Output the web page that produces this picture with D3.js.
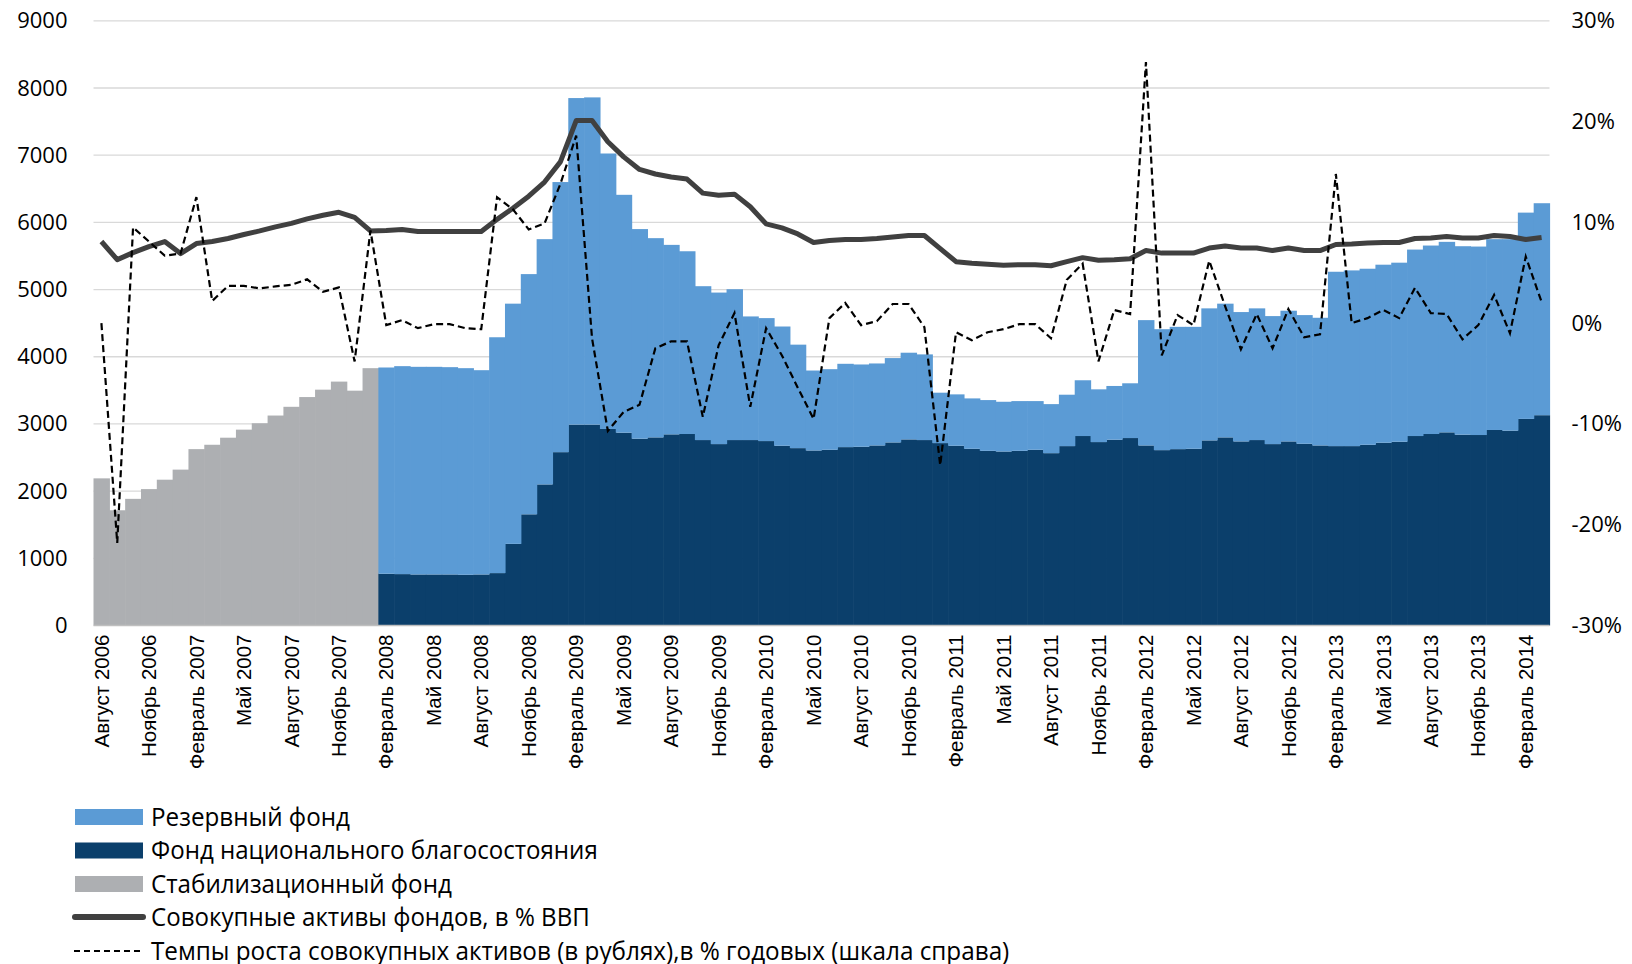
<!DOCTYPE html>
<html>
<head>
<meta charset="utf-8">
<script src="https://cdn.jsdelivr.net/npm/d3@7"></script>
<style>
  html, body { margin: 0; padding: 0; background: #ffffff; }
  svg { display: block; }
</style>
</head>
<body>
<svg id="chart" width="1632" height="964"></svg>
<script>
// Monthly data, August 2006 – March 2014
const monthNames = ["Январь","Февраль","Март","Апрель","Май","Июнь","Июль","Август","Сентябрь","Октябрь","Ноябрь","Декабрь"];
const startYear = 2006, startMonth = 7, monthCount = 92;

// Stabilisation fund, bn RUB (Aug 2006 – Jan 2008)
const stabFund = [2190, 1715, 1885, 2030, 2170, 2320, 2625, 2690, 2795, 2915, 3010, 3125,
                  3255, 3400, 3510, 3630, 3495, 3830];

// National Wealth Fund, bn RUB (Feb 2008 – Mar 2014)
const nwfFund = [770, 765, 760, 760, 760, 755, 760, 780, 1215, 1655, 2100, 2580,
                 2990, 2990, 2925, 2870, 2780, 2800, 2845, 2850, 2760, 2700, 2760, 2760,
                 2745, 2675, 2640, 2605, 2615, 2655, 2660, 2680, 2725, 2770, 2760, 2715,
                 2675, 2630, 2600, 2590, 2600, 2615, 2565, 2670, 2820, 2730, 2765, 2790,
                 2680, 2610, 2625, 2630, 2755, 2800, 2740, 2760, 2700, 2740, 2705, 2680,
                 2670, 2670, 2690, 2720, 2735, 2820, 2850, 2875, 2840, 2835, 2910, 2900,
                 3075, 3130];

// Reserve Fund, bn RUB (Feb 2008 – Mar 2014)
const reserveFund = [3070, 3095, 3090, 3090, 3085, 3075, 3040, 3510, 3575, 3575, 3650, 4020,
                     4860, 4870, 4100, 3540, 3120, 2965, 2820, 2720, 2290, 2255, 2245, 1840,
                     1830, 1775, 1540, 1190, 1200, 1240, 1225, 1220, 1255, 1290, 1275, 750,
                     765, 750, 755, 740, 740, 725, 730, 765, 830, 785, 800, 815,
                     1865, 1800, 1820, 1815, 1965, 1990, 1925, 1960, 1905, 1945, 1915, 1900,
                     2595, 2615, 2620, 2650, 2665, 2775, 2805, 2835, 2805, 2805, 2840, 2850,
                     3070, 3155];

// Total assets of the funds, % of GDP (right scale)
const assetsGdp = [8.1, 6.3, 7.0, 7.6, 8.1, 6.9, 7.9, 8.1, 8.4, 8.8, 9.15, 9.55,
                   9.9, 10.35, 10.7, 11.0, 10.5, 9.15, 9.2, 9.3, 9.1, 9.1, 9.1, 9.1,
                   9.1, 10.3, 11.4, 12.6, 14.0, 16.0, 20.1, 20.1, 18.0, 16.5, 15.25, 14.8,
                   14.5, 14.3, 12.9, 12.7, 12.8, 11.55, 9.85, 9.45, 8.85, 8.0, 8.2, 8.3,
                   8.3, 8.4, 8.55, 8.7, 8.7, 7.4, 6.1, 5.95, 5.85, 5.75, 5.8, 5.8,
                   5.7, 6.1, 6.5, 6.25, 6.3, 6.4, 7.2, 6.95, 6.95, 6.95, 7.45, 7.65,
                   7.45, 7.45, 7.2, 7.45, 7.2, 7.2, 7.8, 7.85, 7.95, 8.0, 8.0, 8.4,
                   8.45, 8.6, 8.45, 8.45, 8.7, 8.6, 8.3, 8.5];

// Growth of total assets in rubles, % annualised (right scale)
const growthRate = [0.0, -21.8, 9.5, 8.1, 6.7, 6.9, 12.5, 2.2, 3.7, 3.7, 3.45, 3.65,
                    3.8, 4.35, 3.1, 3.55, -3.8, 9.2, -0.2, 0.3, -0.5, -0.1, -0.1, -0.5,
                    -0.6, 12.5, 11.3, 9.3, 9.9, 13.8, 18.6, -1.5, -10.7, -8.8, -8.1, -2.5,
                    -1.8, -1.8, -9.3, -2.2, 1.0, -8.3, -0.5, -3.2, -6.4, -9.5, 0.5, 2.0,
                    -0.2, 0.2, 1.9, 1.9, -0.4, -14.1, -0.9, -1.7, -0.9, -0.6, -0.1, -0.1,
                    -1.5, 4.3, 5.9, -3.8, 1.3, 0.9, 25.9, -3.2, 0.8, -0.2, 6.2, 1.7,
                    -2.6, 0.9, -2.5, 1.4, -1.4, -1.1, 14.8, 0.0, 0.5, 1.3, 0.5, 3.5,
                    1.0, 0.9, -1.6, -0.2, 2.8, -1.0, 6.6, 2.1];

const leftTicks = [0, 1000, 2000, 3000, 4000, 5000, 6000, 7000, 8000, 9000];
const rightTicks = [-30, -20, -10, 0, 10, 20, 30];

const legendLabels = ["Резервный фонд", "Фонд национального благосостояния", "Стабилизационный фонд",
                      "Совокупные активы фондов, в % ВВП",
                      "Темпы роста совокупных активов (в рублях),в % годовых (шкала справа)"];

const colors = { reserve: "#5b9bd5", nwf: "#0b3f6b", stab: "#adafb2", line: "#404040", dash: "#000000" };

// Categories: one per month
const categories = [];
for (let k = 0; k < monthCount; k++) {
  const m = (startMonth + k) % 12, y = startYear + Math.floor((startMonth + k) / 12);
  categories.push(monthNames[m] + " " + y);
}
const nwfStart = stabFund.length;

const svg = d3.select("#chart");
const plot = { left: 93.5, right: 1549.5, top: 20.8, bottom: 625.5 };

const x = d3.scaleBand().domain(categories).range([plot.left, plot.right]).padding(0);
const yL = d3.scaleLinear().domain([0, 9000]).range([plot.bottom, plot.top]);
const yR = d3.scaleLinear().domain([-30, 30]).range([plot.bottom, plot.top]);
const bw = x.bandwidth();

// Gridlines
svg.append("g").selectAll("line").data(leftTicks.filter(t => t > 0)).join("line")
  .attr("x1", plot.left).attr("x2", plot.right)
  .attr("y1", d => yL(d)).attr("y2", d => yL(d))
  .attr("stroke", "#d9d9d9").attr("stroke-width", 1.3);

// Columns
const bars = svg.append("g");
bars.selectAll("rect.stab").data(stabFund).join("rect")
  .attr("x", (d, i) => x(categories[i])).attr("width", bw + 0.6)
  .attr("y", d => yL(d)).attr("height", d => yL(0) - yL(d))
  .attr("fill", colors.stab);
bars.selectAll("rect.nwf").data(nwfFund).join("rect")
  .attr("x", (d, i) => x(categories[i + nwfStart])).attr("width", bw + 0.6)
  .attr("y", d => yL(d)).attr("height", d => yL(0) - yL(d))
  .attr("fill", colors.nwf);
bars.selectAll("rect.res").data(reserveFund).join("rect")
  .attr("x", (d, i) => x(categories[i + nwfStart])).attr("width", bw + 0.6)
  .attr("y", (d, i) => yL(nwfFund[i] + d)).attr("height", (d, i) => yL(nwfFund[i]) - yL(nwfFund[i] + d))
  .attr("fill", colors.reserve);

// Baseline
svg.append("line").attr("x1", plot.left).attr("x2", plot.right)
  .attr("y1", yL(0)).attr("y2", yL(0)).attr("stroke", "#bfbfbf").attr("stroke-width", 1.5);

// Lines on the right scale
const cx = i => x(categories[i]) + bw / 2;
const lineGen = d3.line().x((d, i) => cx(i)).y(d => yR(d));
svg.append("path").datum(assetsGdp).attr("d", lineGen)
  .attr("fill", "none").attr("stroke", colors.line).attr("stroke-width", 5)
  .attr("stroke-linejoin", "round");
svg.append("path").datum(growthRate).attr("d", lineGen)
  .attr("fill", "none").attr("stroke", colors.dash).attr("stroke-width", 2.2)
  .attr("stroke-dasharray", "7,4");

// Left axis
const axL = svg.append("g").attr("transform", `translate(${plot.left - 26},0)`)
  .call(d3.axisLeft(yL).tickValues(leftTicks).tickSize(0).tickPadding(0).tickFormat(d3.format("d")));
axL.select(".domain").remove();
axL.selectAll("text").attr("font-family", "Open Sans").attr("font-size", 22).attr("fill", "#000");

// Right axis
const axR = svg.append("g").attr("transform", `translate(${plot.right + 22},0)`)
  .call(d3.axisRight(yR).tickValues(rightTicks).tickSize(0).tickPadding(0).tickFormat(d => d + "%"));
axR.select(".domain").remove();
axR.selectAll("text").attr("font-family", "Open Sans").attr("font-size", 22).attr("fill", "#000");

// Month labels, every third month
const tickIdx = d3.range(0, monthCount, 3);
svg.append("g").selectAll("text").data(tickIdx).join("text")
  .attr("transform", i => `translate(${cx(i)},${plot.bottom + 9}) rotate(-90)`)
  .attr("text-anchor", "end").attr("dy", "0.35em")
  .attr("font-family", "Liberation Sans, Arial").attr("font-size", 20.5).attr("fill", "#000")
  .text(i => categories[i]);

// Legend: condensed text obtained by horizontal scaling
const legend = svg.append("g");
const legendRows = [817, 850.5, 884, 917, 951];
const widths = [199, 447, 301, 439, 859];
legendRows.forEach((yy, k) => {
  if (k < 3) {
    legend.append("rect").attr("x", 75).attr("y", yy - 8).attr("width", 68).attr("height", 16)
      .attr("fill", [colors.reserve, colors.nwf, colors.stab][k]);
  } else if (k === 3) {
    legend.append("line").attr("x1", 75).attr("x2", 143).attr("y1", yy).attr("y2", yy)
      .attr("stroke", colors.line).attr("stroke-width", 6).attr("stroke-linecap", "round");
  } else {
    legend.append("line").attr("x1", 74).attr("x2", 143).attr("y1", yy).attr("y2", yy)
      .attr("stroke", colors.dash).attr("stroke-width", 2).attr("stroke-dasharray", "6,4");
  }
  const t = legend.append("text").attr("x", 0).attr("y", 0).attr("dy", "0.35em")
    .attr("font-family", "Open Sans").attr("font-size", 25).attr("fill", "#000")
    .text(legendLabels[k]);
  const natural = t.node().getComputedTextLength();
  t.attr("transform", `translate(151,${yy}) scale(${widths[k] / natural},1)`);
});
</script>
</body>
</html>
